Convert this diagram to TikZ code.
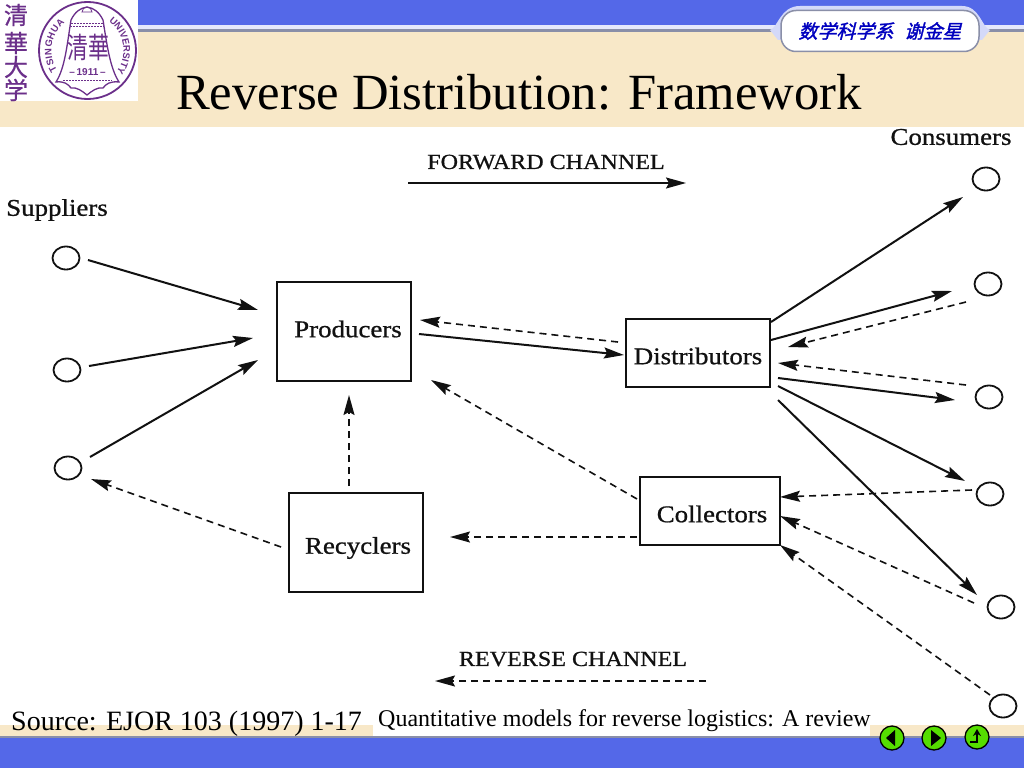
\documentclass[tikz,border=0pt]{standalone}
\usepackage{fontspec}
\setmainfont{Liberation Serif}
\setsansfont{Liberation Sans}
\newfontfamily\cjk[FakeBold=0.6]{Noto Sans CJK SC}
\newfontfamily\cjknarrow[FakeStretch=0.72]{Noto Sans CJK SC}
\newfontfamily\cjkslant[FakeSlant=0.25,FakeBold=1.5]{Noto Sans CJK SC}
\newfontfamily\scan[FakeBold=0.8,FakeStretch=1.12]{Liberation Serif}
\usetikzlibrary{arrows.meta,calc,decorations.text,shapes.geometric}
\definecolor{bandblue}{HTML}{5468E8}
\definecolor{cream}{HTML}{F8E8C8}
\definecolor{rule}{HTML}{8A8FA8}
\definecolor{seal}{HTML}{6B2F8A}
\definecolor{navgreen}{HTML}{55DD00}
\definecolor{ink}{HTML}{111111}
\newcommand{\shiftdown}[2]{\raisebox{0pt}[\dimexpr\height+#1\relax]{#2}}
\newcommand{\shiftup}[2]{\raisebox{0pt}[\height][\dimexpr\depth+#1\relax]{#2}}
\tikzset{
  x=1pt,y=-1pt,
  solidarr/.style={draw=ink,line width=2pt,-{Stealth[length=20pt,width=11pt,inset=3pt]}},
  dasharr/.style={draw=ink,line width=1.6pt,dash pattern=on 7pt off 5pt,-{Stealth[length=20pt,width=11pt,inset=3pt]}},
  place/.style={draw=ink,ellipse,line width=1.8pt,minimum width=27pt,minimum height=23pt,inner sep=0pt},
  boxnode/.style={draw=ink,line width=1.7pt,inner sep=0pt,text=ink,font=\fontsize{24}{24}\selectfont\scan},
  lab/.style={inner sep=0pt,text=ink,font=\fontsize{24}{24}\selectfont\scan},
  caps/.style={inner sep=0pt,text=ink,font=\fontsize{21.5}{22}\selectfont\scan},
  nav/.style={circle,draw=black,line width=1.3pt,fill=navgreen,minimum size=24pt,inner sep=0pt},
  sealline/.style={draw=seal,line width=1.3pt},
  sealchar/.style={inner sep=0pt,text=seal,font=\fontsize{24}{24}\selectfont\cjk},
}
\begin{document}
\begin{tikzpicture}
\useasboundingbox (0,0) rectangle (1024,768);
% page background
\fill[white] (0,0) rectangle (1024,768);
\fill[bandblue] (138,0) rectangle (1024,25);
\fill[white!85!bandblue] (138,25) rectangle (1024,29);
\fill[rule] (138,29) rectangle (1024,32);
\fill[cream] (0,32) rectangle (1024,127);
\fill[white] (0,0) rectangle (138,101);
\fill[cream] (0,725) rectangle (373,736);
\fill[cream] (870,725) rectangle (1024,736);
\fill[rule] (0,736) rectangle (1024,738);
\fill[bandblue] (0,738) rectangle (1024,768);
% seal
\node[circle,draw=seal,line width=1.8pt,minimum size=97pt,inner sep=0pt] (seal) at (87.5,50.5) {};
\draw[sealline] (71,20) .. controls (75,12) and (80,8) .. (87,7) .. controls (94,8) and (99,12) .. (103,20) .. controls (107,45) and (110,68) .. (119,82) .. controls (110,81) and (106,84) .. (103,88) .. controls (97,87) and (92,91) .. (87,95) .. controls (82,91) and (77,87) .. (71,88) .. controls (68,84) and (64,81) .. (56,82) .. controls (65,68) and (67,45) .. (71,20) -- cycle;
\draw[seal,line width=0.8pt,dash pattern=on 2pt off 1pt] (71,23) -- (103,23) (70,26) -- (104,26);
\draw[seal,line width=0.8pt,dash pattern=on 2pt off 1pt] (63,80) -- (112,80);
\draw[seal,line width=0.8pt] (82,12) arc[start angle=180,end angle=360,radius=5] -- cycle;
\node[inner sep=0pt,text=seal,font=\fontsize{29}{29}\selectfont\cjknarrow] (sealname) at (88,47) {清華};
\node[inner sep=0pt,text=seal,font=\fontsize{10}{10}\selectfont\sffamily\bfseries] (sealyear) at (87.5,72) {--\,1911\,--};
\path[decorate,decoration={text along path,text align={fit to path},text={|\fontsize{9.5}{9.5}\selectfont\sffamily\bfseries\color{seal}|TSINGHUA}}]
  (57.3,70.1) arc[start angle=147,end angle=231,radius=36];
\path[decorate,decoration={text along path,text align={fit to path},text={|\fontsize{9.5}{9.5}\selectfont\sffamily\bfseries\color{seal}|UNIVERSITY}}]
  (108.7,21.4) arc[start angle=306,end angle=392,radius=36];
\node[sealchar] (c1) at (16,15) {清};
\node[sealchar] (c2) at (16,43) {華};
\node[sealchar] (c3) at (16,67) {大};
\node[sealchar] (c4) at (16,90) {学};
% badge
\fill[white!75!bandblue] (770,30) .. controls (778,28) and (780,6) .. (800,6) -- (962,6) .. controls (980,6) and (982,28) .. (990,30) -- (982,40) -- (778,40) -- cycle;
\node[draw=rule,line width=1.5pt,fill=white,rounded corners=15pt,minimum width=198pt,minimum height=41pt,inner sep=0pt,text=blue!75!black,font=\fontsize{19}{19}\selectfont\cjkslant] (badge) at (880,31) {数学科学系\hspace{11pt}谢金星};
% title
\node[inner sep=0pt,font=\fontsize{50.7}{52}\selectfont] (title) at (519,92) {Reverse Distribution: Framework};
% labels
\node[lab] (lconsumers) at (951,137) {Consumers};
\node[lab] (lsuppliers) at (57,210) {Suppliers};
\node[caps] (lforward) at (546,162) {FORWARD CHANNEL};
\node[caps] (lreverse) at (573,659) {REVERSE CHANNEL};
% channel legend ends
\coordinate (fwdA) at (408,183);
\coordinate (fwdB) at (686,183);
\coordinate (revA) at (706,681);
\coordinate (revB) at (435,681);
\draw[solidarr,line width=1.6pt] (fwdA) -- (fwdB);
\draw[dasharr] (revA) -- (revB);
% nodes
\node[place] (s1) at (66,258) {};
\node[place] (s2) at (67,370) {};
\node[place] (s3) at (68,468) {};
\node[place] (k1) at (986,179) {};
\node[place] (k2) at (988,284) {};
\node[place] (k3) at (989,397) {};
\node[place] (k4) at (990,494) {};
\node[place] (k5) at (1001,607) {};
\node[place] (k6) at (1003,706) {};
\node[boxnode,minimum width=134pt,minimum height=99pt] (prod) at (344,331.5) {\shiftup{5pt}{\hspace{8pt}Producers}};
\node[boxnode,minimum width=144pt,minimum height=68pt] (dist) at (698,353) {\shiftdown{6pt}{Distributors}};
\node[boxnode,minimum width=140pt,minimum height=68pt] (coll) at (710,511) {\shiftdown{6pt}{\hspace{4pt}Collectors}};
\node[boxnode,minimum width=134pt,minimum height=99pt] (recy) at (356,542.5) {\shiftdown{11pt}{\hspace{4pt}Recyclers}};
% solid connectors
\draw[solidarr] ($(s1)+(22,2)$) -- ($(prod)+(-86,-21.5)$);
\draw[solidarr] ($(s2)+(22,-4)$) -- ($(prod)+(-91,6.5)$);
\draw[solidarr] ($(s3)+(22,-11)$) -- ($(prod)+(-86,28.5)$);
\draw[solidarr] ($(prod)+(75,2.5)$) -- ($(dist)+(-74,2)$);
\draw[solidarr] ($(dist)+(73,-31)$) -- ($(k1)+(-23,18)$);
\draw[solidarr] ($(dist)+(73,-13)$) -- ($(k2)+(-36,7)$);
\draw[solidarr] ($(dist)+(80,25)$) -- ($(k3)+(-34,3)$);
\draw[solidarr] ($(dist)+(80,33)$) -- ($(k4)+(-25,-13)$);
\draw[solidarr] ($(dist)+(80,47)$) -- ($(k5)+(-24,-12)$);
% dashed connectors
\draw[dasharr] ($(recy)+(-75,4.5)$) -- ($(s3)+(23,11)$);
\draw[dasharr] ($(dist)+(-80,-11)$) -- ($(prod)+(76,-11.5)$);
\draw[dasharr] ($(k2)+(-22,18)$) -- ($(dist)+(90,-6)$);
\draw[dasharr] ($(k3)+(-23,-12)$) -- ($(dist)+(80,10)$);
\draw[dasharr] ($(k4)+(-18,-4)$) -- ($(coll)+(70,-14)$);
\draw[dasharr] ($(k5)+(-27,-4)$) -- ($(coll)+(70,5)$);
\draw[dasharr] ($(k6)+(-13,-11)$) -- ($(coll)+(70,34)$);
\draw[dasharr] ($(coll)+(-73,-12)$) -- ($(prod)+(87,48.5)$);
\draw[dasharr] ($(coll)+(-73,26)$) -- ($(recy)+(94,-5.5)$);
\draw[dasharr] ($(recy)+(-7,-56.5)$) -- ($(prod)+(5,63.5)$);
% footer
\node[anchor=west,inner sep=0pt,font=\fontsize{28}{28}\selectfont] (source) at (11,724) {Source: EJOR 103 (1997) 1-17};
\node[anchor=west,inner sep=0pt,font=\fontsize{24}{24}\selectfont] (paper) at (378,721) {Quantitative models for reverse logistics: A review};
% navigation buttons
\node[nav] (navL) at (892,738) {};
\node[nav] (navR) at (934,738) {};
\node[nav] (navU) at (977,737) {};
\fill[black] ($(navL)+(-6,0)$) -- ($(navL)+(3,-8)$) -- ($(navL)+(3,8)$) -- cycle;
\fill[black] ($(navR)+(7,0)$) -- ($(navR)+(-3,-8)$) -- ($(navR)+(-3,8)$) -- cycle;
\draw[black,line width=2.2pt,-{Stealth[length=7pt,width=8pt]}] ($(navU)+(-7,5)$) -- ($(navU)+(0,5)$) -- ($(navU)+(0,-8)$);
\end{tikzpicture}
\end{document}
